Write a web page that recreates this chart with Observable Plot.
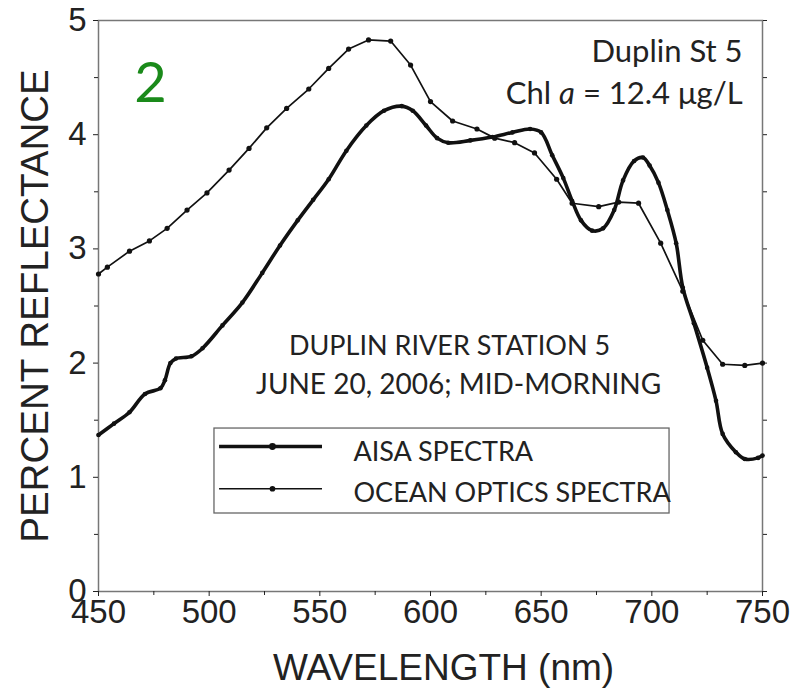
<!DOCTYPE html>
<html>
<head>
<meta charset="utf-8">
<script src="https://cdn.jsdelivr.net/npm/d3@7"></script>
<script src="https://cdn.jsdelivr.net/npm/@observablehq/plot@0.6"></script>
<style>
  html, body { margin: 0; padding: 0; background: #fff; }
</style>
</head>
<body>
<div id="chart"></div>
<script>
// Ocean Optics spectra (thin line, dots)
const ooWavelength = [450,454,464,473,481,490,499,509,518,526,535,545,554,563,572,582,591,600,610,621,629,638,647,657,664,676,685,694,704,714,723,732,742,750];
const ooReflectance = [2.78,2.84,2.98,3.07,3.18,3.34,3.49,3.69,3.88,4.06,4.23,4.40,4.58,4.75,4.83,4.82,4.61,4.29,4.12,4.05,3.97,3.93,3.84,3.61,3.40,3.37,3.41,3.40,3.05,2.63,2.20,1.99,1.98,2.00];

// AISA spectra (thick line)
const aisaWavelength = [450,457,464,471,478,480,482.5,485,492,497,506,515,524,532,540,547,554,562,571,579,587,592,598,603,608,618,628,637,645,650,655,660,664,668,673,678,683,687,692,696,699,703,707,711,714,719,725,729,732,738,742,748,750];
const aisaReflectance = [1.37,1.47,1.57,1.73,1.78,1.85,2.00,2.04,2.06,2.13,2.33,2.53,2.79,3.03,3.25,3.43,3.61,3.86,4.08,4.21,4.25,4.21,4.08,3.97,3.93,3.95,3.98,4.02,4.05,4.02,3.82,3.62,3.42,3.25,3.16,3.18,3.34,3.60,3.77,3.80,3.73,3.58,3.34,3.05,2.66,2.35,1.96,1.67,1.38,1.22,1.16,1.17,1.19];

// Ticks
const xTickValues = [450,500,550,600,650,700,750];
const xMinorTicks = [475,525,575,625,675,725];
const yTickValues = [0,1,2,3,4,5];
const yMinorTicks = [0.5,1.5,2.5,3.5,4.5];

// Text
const xTitle = "WAVELENGTH (nm)";
const yTitle = "PERCENT REFLECTANCE";
const panelLabel = "2";
const stationLines = ["Duplin St 5", "Chl a = 12.4 μg/L"];
const infoLines = ["DUPLIN RIVER STATION 5", "JUNE 20, 2006; MID-MORNING"];
const seriesNames = ["AISA SPECTRA", "OCEAN OPTICS SPECTRA"];

const oo = ooWavelength.map((w, i) => ({w, r: ooReflectance[i]}));
const aisa = aisaWavelength.map((w, i) => ({w, r: aisaReflectance[i]}));

// legend placement in data units
const legendBox = [{x1: 502.4, x2: 708, y1: 0.683, y2: 1.427}];
const legendRows = [
  {name: seriesNames[0], y: 1.27, ty: 1.22, sw: 3.5, r: 3.5},
  {name: seriesNames[1], y: 0.90, ty: 0.86, sw: 1.6, r: 2.4}
];
const legendLine = {x1: 504.7, x2: 551.2, xm: 528.6, xt: 565.2};

const calibri = "Lato, 'Open Sans', sans-serif";
const arial = "'Liberation Sans', Arial, sans-serif";

const chart = Plot.plot({
  width: 797,
  height: 697,
  marginLeft: 98,
  marginRight: 35,
  marginTop: 20,
  marginBottom: 106,
  style: {fontFamily: arial, fontSize: "33px", color: "#222", background: "#fff"},
  x: {domain: [450, 750]},
  y: {domain: [0, 5]},
  marks: [
    Plot.frame({stroke: "#777", strokeWidth: 1.5}),
    Plot.axisX({ticks: xTickValues, tickSize: 5, tickPadding: 3, fontSize: 33, tickFormat: "d", label: null}),
    Plot.axisX({ticks: xMinorTicks, tickSize: 4, text: null, label: null}),
    Plot.axisY({ticks: yTickValues, tickSize: 5, tickPadding: 7, fontSize: 33, tickFormat: "d", label: null}),
    Plot.axisY({ticks: yMinorTicks, tickSize: 4, text: null, label: null}),
    Plot.axisY({anchor: "right", ticks: [...yTickValues, ...yMinorTicks], tickSize: 4, text: null, label: null}),
    // axis titles
    Plot.text([xTitle], {frameAnchor: "bottom", text: d => d, textAnchor: "middle", dx: 13, dy: 77, lineAnchor: "middle", fontFamily: arial, fontSize: 37, fill: "#222"}),
    Plot.text([yTitle], {frameAnchor: "left", text: d => d, textAnchor: "middle", dx: -63, rotate: -90, lineAnchor: "middle", fontFamily: arial, fontSize: 38.5, fill: "#222"}),
    // legend box
    Plot.rect(legendBox, {x1: "x1", x2: "x2", y1: "y1", y2: "y2", fill: "#fff", stroke: "#666", strokeWidth: 1.3}),
    Plot.ruleY(legendRows, {y: "y", x1: legendLine.x1, x2: legendLine.x2, stroke: "#111", strokeWidth: "sw"}),
    Plot.dot(legendRows, {x: legendLine.xm, y: "y", r: "r", fill: "#111", stroke: null}),
    Plot.text(legendRows, {x: legendLine.xt, y: "ty", text: "name", textAnchor: "start", fontFamily: calibri, fontSize: 27, fill: "#222"}),
    // series
    Plot.line(aisa, {x: "w", y: "r", stroke: "#111", strokeWidth: 3.6, curve: "catmull-rom"}),
    Plot.dot(aisa, {x: "w", y: "r", r: 2.3, fill: "#111", stroke: null}),
    Plot.line(oo, {x: "w", y: "r", stroke: "#111", strokeWidth: 1.7}),
    Plot.dot(oo, {x: "w", y: "r", r: 2.6, fill: "#111", stroke: null}),
    // annotations
    Plot.text([panelLabel], {x: 473.5, y: 4.44, text: d => d, fontFamily: calibri, fontSize: 56, fill: "#1a8a1a"}),
    Plot.text([stationLines[0]], {x: 741, y: 4.72, text: d => d, textAnchor: "end", fontFamily: calibri, fontSize: 31, fill: "#222"}),
    Plot.text([stationLines[1]], {x: 741, y: 4.36, text: d => d, textAnchor: "end", fontFamily: calibri, fontSize: 31, fill: "#222", className: "chl"}),
    Plot.text([infoLines[0]], {x: 608.6, y: 2.145, text: d => d, fontFamily: calibri, fontSize: 27, fill: "#222"}),
    Plot.text([infoLines[1]], {x: 612.7, y: 1.81, text: d => d, fontFamily: calibri, fontSize: 28, fill: "#222"})
  ]
});

document.getElementById("chart").appendChild(chart);

// italic "a" in the chlorophyll line
d3.select(chart).selectAll(".chl text").each(function () {
  const t = d3.select(this);
  t.text(null);
  t.append("tspan").text("Chl ");
  t.append("tspan").attr("font-style", "italic").text("a");
  t.append("tspan").text(" = 12.4 μg/L");
});
</script>
</body>
</html>
